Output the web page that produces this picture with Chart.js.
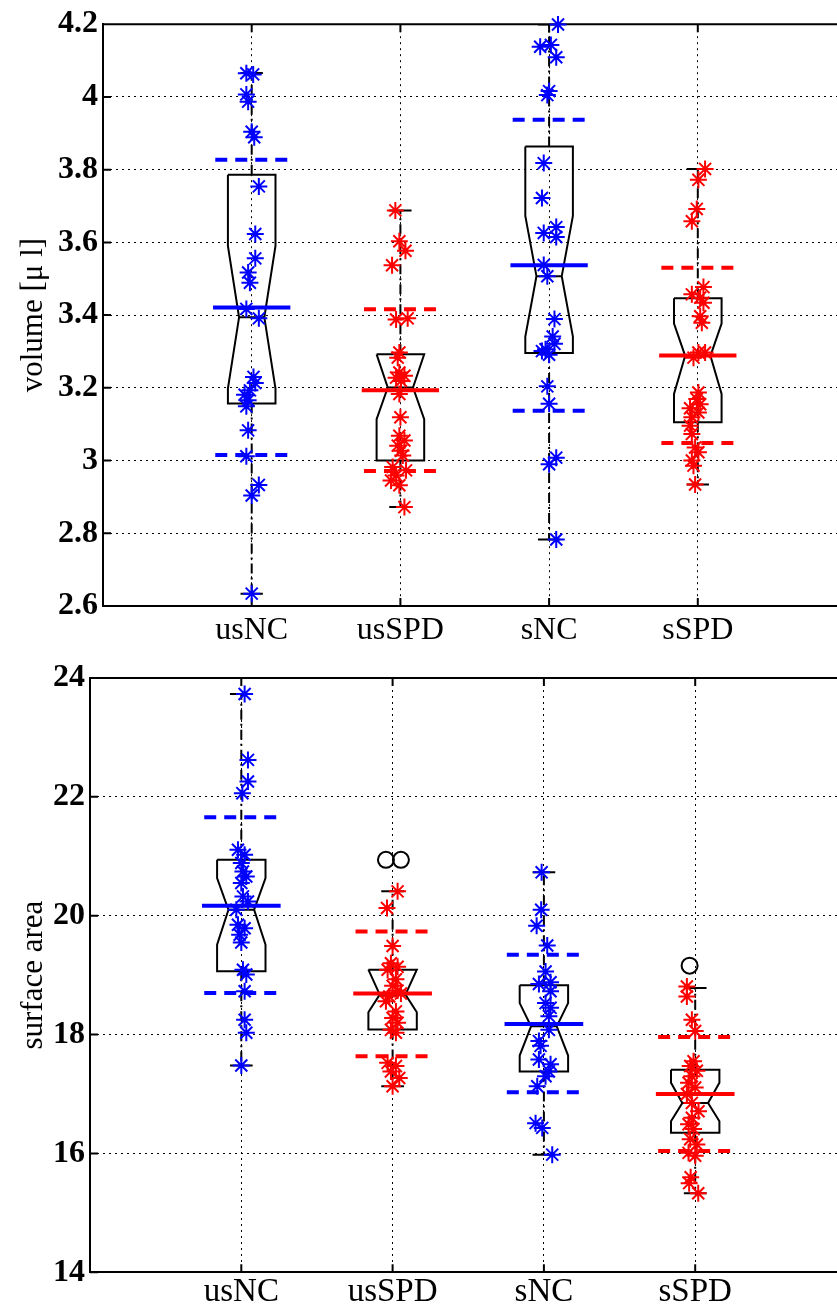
<!DOCTYPE html>
<html>
<head>
<meta charset="utf-8">
<script src="https://cdn.jsdelivr.net/npm/chart.js@4.4.0/dist/chart.umd.min.js"></script>
<style>
  html, body { margin: 0; padding: 0; background: #fff; overflow: hidden; width: 837px; height: 1315px; }
  .panel { position: absolute; left: 0; }
</style>
</head>
<body>
<div class="panel" style="top:0"><canvas id="volChart" width="860" height="660"></canvas></div>
<div class="panel" style="top:640px"><canvas id="areaChart" width="860" height="675"></canvas></div>
<script>
// categories + colours
const categories = ["usNC", "usSPD", "sNC", "sSPD"];
const groupColors = ["#0000ff", "#ff0000", "#0000ff", "#ff0000"];

// ---- volume panel ----
const volTicks = [2.6, 2.8, 3, 3.2, 3.4, 3.6, 3.8, 4, 4.2];
const volUsNC = [4.065, 4.062, 4.007, 3.987, 3.904, 3.889, 3.754, 3.623, 3.556, 3.517, 3.489, 3.417, 3.391, 3.230, 3.213, 3.193, 3.181, 3.166, 3.149, 3.083, 3.012, 2.933, 2.904, 2.634];
const volUsSPD = [3.688, 3.603, 3.577, 3.537, 3.391, 3.388, 3.297, 3.283, 3.242, 3.233, 3.228, 3.219, 3.183, 3.119, 3.068, 3.055, 3.041, 3.027, 3.014, 2.982, 2.973, 2.959, 2.945, 2.932, 2.872];
const volSNC = [4.199, 4.143, 4.138, 4.109, 4.016, 4.005, 3.818, 3.722, 3.642, 3.626, 3.615, 3.538, 3.507, 3.389, 3.341, 3.321, 3.306, 3.301, 3.291, 3.204, 3.156, 3.008, 2.990, 2.783];
const volSSPD = [3.802, 3.772, 3.692, 3.658, 3.477, 3.457, 3.448, 3.434, 3.397, 3.379, 3.297, 3.297, 3.283, 3.187, 3.169, 3.155, 3.144, 3.132, 3.119, 3.096, 3.073, 3.036, 3.023, 3.000, 2.986, 2.934];
// horizontal jitter of the stars (x units)
const volUsNCJit = [-0.036, 0.01, -0.036, -0.024, 0, 0.017, 0.048, 0.024, 0.024, -0.024, -0.012, -0.036, 0.048, 0.012, 0.024, -0.012, -0.048, -0.024, -0.036, -0.024, -0.036, 0.048, 0, 0];
const volUsSPDJit = [-0.034, -0.007, 0.034, -0.056, 0.049, -0.029, -0.007, -0.018, -0.007, 0.027, -0.029, 0.004, -0.007, 0, -0.007, 0.027, -0.018, 0.004, 0.016, -0.052, 0.038, -0.029, -0.063, -0.007, 0.027];
const volSNCJit = [0.06, 0.012, -0.06, 0.048, 0, -0.012, -0.036, -0.048, 0.048, -0.036, 0.048, -0.036, -0.012, 0.036, 0.024, 0.036, -0.024, -0.048, 0, -0.012, 0, 0.048, 0, 0.048];
const volSSPDJit = [0.049, 0.004, -0.007, -0.04, 0.038, -0.04, 0.016, 0.038, 0.016, 0.027, 0.004, 0.049, -0.029, 0.004, -0.007, 0.016, -0.052, 0.004, -0.04, -0.052, -0.04, -0.018, 0.004, -0.04, -0.029, -0.018];
// box stats
const volQ1 = [3.157, 3.000, 3.296, 3.105];
const volQ3 = [3.786, 3.292, 3.864, 3.446];
const volMedian = [3.394, 3.201, 3.507, 3.288];
const volNotchLo = [3.198, 3.114, 3.341, 3.183];
const volNotchHi = [3.590, 3.292, 3.673, 3.377];
const volWhiskLo = [2.634, 2.872, 2.783, 2.934];
const volWhiskHi = [4.066, 3.688, 4.199, 3.802];
const volMean = [3.421, 3.193, 3.537, 3.289];
const volSdLo = [3.015, 2.971, 3.137, 3.048];
const volSdHi = [3.827, 3.416, 3.937, 3.530];

// ---- surface area panel ----
const areaTicks = [14, 16, 18, 20, 22, 24];
const areaUsNC = [23.731, 22.622, 22.258, 22.062, 21.109, 21.025, 20.886, 20.745, 20.66, 20.55, 20.325, 20.24, 20.1, 19.849, 19.79, 19.68, 19.55, 19.092, 19.01, 18.73, 18.25, 18.03, 17.479];
const areaUsSPD = [20.41, 20.13, 19.49, 19.2, 19.14, 19.09, 18.93, 18.82, 18.74, 18.69, 18.64, 18.56, 18.39, 18.28, 18.2, 18.08, 18.03, 17.524, 17.47, 17.38, 17.27, 17.13];
const areaSNC = [20.73, 20.1, 19.83, 19.5, 19.06, 18.88, 18.85, 18.73, 18.53, 18.45, 18.31, 18.08, 17.89, 17.81, 17.58, 17.5, 17.38, 17.3, 17.13, 16.51, 16.43, 15.98];
const areaSSPD = [18.81, 18.64, 18.25, 18.06, 17.55, 17.47, 17.39, 17.3, 17.19, 17.11, 17.0, 16.85, 16.71, 16.6, 16.49, 16.41, 16.24, 16.15, 16.01, 15.96, 15.6, 15.5, 15.33];
const areaUsNCJit = [0.022, 0.044, 0.044, 0.007, -0.022, 0.022, 0, 0.011, 0.033, 0, 0.011, 0.044, -0.033, -0.022, 0.022, -0.011, 0, 0.011, 0.033, 0.022, 0.022, 0.033, 0];
const areaUsSPDJit = [0.033, -0.037, 0, -0.011, 0.033, -0.033, 0.022, 0, 0.033, 0.055, -0.022, -0.044, 0.022, 0, 0.033, -0.011, 0.022, -0.033, 0.022, -0.011, 0.044, 0];
const areaSNCJit = [-0.015, -0.018, -0.048, 0.022, 0.011, 0.044, -0.033, 0.044, 0.011, 0.044, 0.033, 0.033, -0.033, -0.022, -0.033, 0.044, 0.033, 0.011, -0.044, -0.055, -0.011, 0.055];
const areaSSPDJit = [-0.055, -0.055, -0.022, 0, -0.011, -0.033, 0.011, -0.022, -0.044, 0, -0.055, -0.022, 0.022, -0.022, -0.044, -0.011, -0.033, 0.011, -0.044, 0, -0.03, -0.04, 0.02];
const areaQ1 = [19.064, 18.084, 17.38, 16.35];
const areaQ3 = [20.941, 19.092, 18.83, 17.41];
const areaMedian = [20.101, 18.672, 18.14, 16.85];
const areaNotchLo = [19.513, 18.375, 17.647, 16.54];
const areaNotchHi = [20.633, 19.092, 18.53, 17.19];
const areaWhiskLo = [17.479, 17.13, 15.98, 15.33];
const areaWhiskHi = [23.731, 20.41, 20.73, 18.785];
const areaMean = [20.168, 18.69, 18.18, 17.0];
const areaSdLo = [18.70, 17.636, 17.03, 16.04];
const areaSdHi = [21.658, 19.736, 19.345, 17.96];
// outliers (group number, jitter, value)
const areaOutGroup = [2, 2, 4];
const areaOutJit = [-0.044, 0.055, -0.037];
const areaOutVal = [20.94, 20.94, 19.16];

const serif = "'Liberation Serif', 'Times New Roman', serif";

// top border + inward tick marks like matlab axes
const framePlugin = {
  id: "frame",
  beforeDatasetsDraw(chart) {
    const { ctx, chartArea: a, scales } = chart;
    ctx.save();
    ctx.strokeStyle = "#000";
    ctx.lineWidth = 2;
    ctx.beginPath();
    ctx.moveTo(a.left - 1, a.top);
    ctx.lineTo(a.right, a.top);
    scales.x.ticks.forEach((t) => {
      const px = scales.x.getPixelForValue(t.value);
      ctx.moveTo(px, a.bottom);
      ctx.lineTo(px, a.bottom - 8);
      ctx.moveTo(px, a.top);
      ctx.lineTo(px, a.top + 8);
    });
    scales.y.ticks.forEach((t) => {
      const py = scales.y.getPixelForValue(t.value);
      ctx.moveTo(a.left, py);
      ctx.lineTo(a.left + 8, py);
    });
    ctx.stroke();
    ctx.restore();
  },
};

function seg(x1, y1, x2, y2) {
  return [{ x: x1, y: y1 }, { x: x2, y: y2 }];
}

function lineSet(data, color, width, dash, order) {
  return {
    data: data, showLine: true, borderColor: color, borderWidth: width,
    borderDash: dash || [], pointRadius: 0, fill: false, tension: 0, order: order,
  };
}

function buildPanel(id, p) {
  const w = 0.16, wn = 0.085, cap = 0.075, meanW = 0.26, sdW = 0.245;
  const datasets = [];
  p.groups.forEach((vals, i) => {
    const x = i + 1;
    const col = groupColors[i];
    // notched box
    datasets.push(lineSet([
      { x: x - w, y: p.q3[i] }, { x: x + w, y: p.q3[i] }, { x: x + w, y: p.nHi[i] },
      { x: x + wn, y: p.med[i] }, { x: x + w, y: p.nLo[i] }, { x: x + w, y: p.q1[i] },
      { x: x - w, y: p.q1[i] }, { x: x - w, y: p.nLo[i] }, { x: x - wn, y: p.med[i] },
      { x: x - w, y: p.nHi[i] }, { x: x - w, y: p.q3[i] },
    ], "#000", 2, null, 3));
    datasets.push(lineSet(seg(x - wn, p.med[i], x + wn, p.med[i]), "#000", 2, null, 3));
    // whiskers
    datasets.push(lineSet(seg(x, p.q3[i], x, p.wHi[i]), "#000", 2, [10, 4, 2, 4], 4));
    datasets.push(lineSet(seg(x, p.q1[i], x, p.wLo[i]), "#000", 2, [10, 4, 2, 4], 4));
    datasets.push(lineSet(seg(x - cap, p.wHi[i], x + cap, p.wHi[i]), "#000", 2, null, 4));
    datasets.push(lineSet(seg(x - cap, p.wLo[i], x + cap, p.wLo[i]), "#000", 2, null, 4));
    // samples
    datasets.push({
      data: vals.map((v, k) => ({ x: x + p.jits[i][k], y: v })),
      pointStyle: "star", pointRadius: 8.5, borderColor: col, borderWidth: 2,
      backgroundColor: col, clip: false, order: 2,
    });
    // mean and mean +- sd
    datasets.push(lineSet(seg(x - meanW, p.mean[i], x + meanW, p.mean[i]), col, 4, null, 1));
    datasets.push(lineSet(seg(x - sdW, p.sdHi[i], x + sdW, p.sdHi[i]), col, 4, [12, 8], 1));
    datasets.push(lineSet(seg(x - sdW, p.sdLo[i], x + sdW, p.sdLo[i]), col, 4, [12, 8], 1));
  });
  if (p.outVal) {
    datasets.push({
      data: p.outVal.map((v, k) => ({ x: p.outGroup[k] + p.outJit[k], y: v })),
      pointStyle: "circle", pointRadius: 8, borderColor: "#000", borderWidth: 2,
      backgroundColor: "rgba(0,0,0,0)", clip: false, order: 2,
    });
  }

  new Chart(document.getElementById(id), {
    type: "scatter",
    data: { datasets: datasets },
    options: {
      responsive: false,
      animation: false,
      devicePixelRatio: 1,
      layout: { padding: { top: p.padTop, right: 13.5, bottom: 0, left: 0 } },
      plugins: { legend: { display: false }, tooltip: { enabled: false } },
      scales: {
        x: {
          type: "linear", min: 0, max: 5,
          afterBuildTicks: (s) => { s.ticks = categories.map((c, k) => ({ value: k + 1 })); },
          afterFit: (s) => { s.height = p.xHeight; },
          ticks: {
            callback: (v) => categories[v - 1],
            color: "#000", padding: p.xPad, maxRotation: 0,
            font: { family: serif, size: p.xFont },
          },
          grid: { color: "#000", lineWidth: 1, drawTicks: false },
          border: { display: true, color: "#000", width: 2, dash: [2, 4] },
        },
        y: {
          type: "linear", min: p.yTicks[0], max: p.yTicks[p.yTicks.length - 1],
          afterBuildTicks: (s) => { s.ticks = p.yTicks.map((v) => ({ value: v })); },
          afterFit: (s) => { s.width = p.yWidth; },
          ticks: {
            callback: (v) => String(v),
            color: "#000", padding: 5,
            font: { family: serif, size: 32, weight: "bold" },
          },
          grid: { color: "#000", lineWidth: 1, drawTicks: false },
          border: { display: true, color: "#000", width: 2, dash: [2, 4] },
          title: {
            display: true, text: p.title, color: "#000",
            font: { family: serif, size: 31 }, padding: { top: 15, bottom: 0 },
          },
        },
      },
    },
    plugins: [framePlugin],
  });
}

buildPanel("volChart", {
  groups: [volUsNC, volUsSPD, volSNC, volSSPD],
  jits: [volUsNCJit, volUsSPDJit, volSNCJit, volSSPDJit],
  q1: volQ1, q3: volQ3, med: volMedian, nLo: volNotchLo, nHi: volNotchHi,
  wLo: volWhiskLo, wHi: volWhiskHi, mean: volMean, sdLo: volSdLo, sdHi: volSdHi,
  yTicks: volTicks, title: "volume [\u03bc l]",
  padTop: 22, yWidth: 103, xHeight: 54, xPad: 5, xFont: 32,
});

buildPanel("areaChart", {
  groups: [areaUsNC, areaUsSPD, areaSNC, areaSSPD],
  jits: [areaUsNCJit, areaUsSPDJit, areaSNCJit, areaSSPDJit],
  q1: areaQ1, q3: areaQ3, med: areaMedian, nLo: areaNotchLo, nHi: areaNotchHi,
  wLo: areaWhiskLo, wHi: areaWhiskHi, mean: areaMean, sdLo: areaSdLo, sdHi: areaSdHi,
  outGroup: areaOutGroup, outJit: areaOutJit, outVal: areaOutVal,
  yTicks: areaTicks, title: "surface area",
  padTop: 38, yWidth: 90, xHeight: 42.7, xPad: 0, xFont: 33,
});
</script>
</body>
</html>
